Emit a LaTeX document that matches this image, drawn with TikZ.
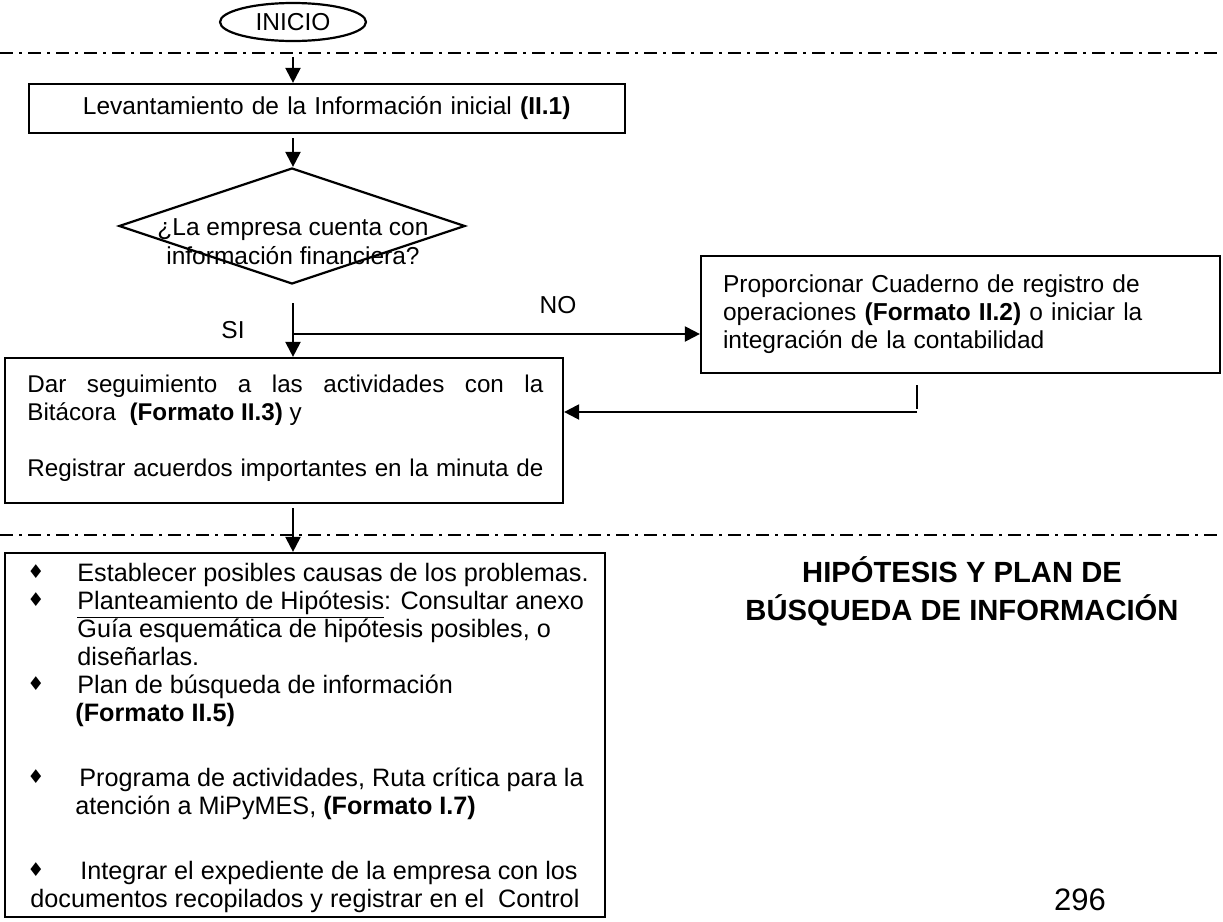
\documentclass[tikz,border=0pt]{standalone}
\usepackage{fontspec}
\setmainfont{Liberation Sans}
\newfontfamily\dejavu{DejaVu Sans}
\usetikzlibrary{arrows.meta,shapes.geometric}
\begin{document}
\begin{tikzpicture}[x=0.5pt,y=-0.5pt,
  every node/.style={font=\fontsize{12.25}{14}\selectfont},
  procbox/.style={draw, line width=1.1pt, inner sep=0pt},
  flowarrow/.style={line width=1.1pt, -{Triangle[length=7.5pt,width=7.5pt]}},
  plainline/.style={line width=1.1pt},
  sepline/.style={line width=0.8pt, dash pattern=on 6.5pt off 3pt on 1.5pt off 3pt},
  txt/.style={anchor=base west, inner sep=0pt, font=\fontsize{12.6}{14}\selectfont},
  bul/.style={inner sep=0pt, font=\dejavu\fontsize{9.5}{9.5}\selectfont},
]
\useasboundingbox (0,0) rectangle (1223,922);

% separators
\coordinate (s1l) at (0,53); \coordinate (s1r) at (1223,53);
\coordinate (s2l) at (0,535); \coordinate (s2r) at (1223,535);
\draw[sepline] (s1l) -- (s1r);
\draw[sepline] (s2l) -- (s2r);

% start
\node[draw, ellipse, line width=1.1pt, minimum width=73pt, minimum height=19pt, inner sep=0pt] (inicio) at (293,22) {INICIO};

% first process (box 29..625 x 84..133)
\node[procbox, minimum width=298pt, minimum height=24.5pt, text width=244pt, inner xsep=27pt, align=left] (lev) at (327,108.5) {\makebox[244pt][l]{Levantamiento de la Información inicial \textbf{(II.1)}}};

% decision
\node[draw, diamond, line width=1.1pt, minimum width=173pt, minimum height=58pt, inner sep=0pt] (dec) at (292,226) {};
\node[align=center, font=\fontsize{12.25}{14.5}\selectfont, inner sep=0pt] (dectxt) at (293,242) {¿La empresa cuenta con\\información financiera?};

% NO branch box
\node[procbox, minimum width=259.5pt, minimum height=58.5pt, text width=237.5pt, inner xsep=11pt, align=left] (prop) at (960.5,314.5) {Proporcionar Cuaderno de registro de\\operaciones \textbf{(Formato II.2)} o iniciar la\\integración de la contabilidad};

% follow-up box
\node[procbox, minimum width=279pt, minimum height=72.5pt] (seg) at (284,430.5) {};
\node[anchor=base west, inner sep=0pt, font=\fontsize{12.1}{14}\selectfont] (segtxt) at (27,392) {\parbox[t]{258pt}{\makebox[\linewidth][s]{Dar seguimiento a las actividades con la}\\Bitácora\ \ \textbf{(Formato II.3)} y\\[14pt]\makebox[\linewidth][s]{Registrar acuerdos importantes en la minuta de}}};

% labels
\node (si) at (233,330) {SI};
\node (no) at (558,305) {NO};

% bottom box
\node[procbox, minimum width=300pt, minimum height=182pt] (plan) at (305,735) {};

\node[bul] (d1) at (36,572) {♦};
\node[txt] (l1) at (77,581) {Establecer posibles causas de los problemas.};
\node[bul] (d2) at (36,600) {♦};
\node[txt] (l2) at (77,609) {\underline{Planteamiento de Hipótesis}: Consultar anexo};
\node[txt] (l3) at (77,637) {Guía esquemática de hipótesis posibles, o};
\node[txt] (l4) at (77,665) {diseñarlas.};
\node[bul] (d5) at (36,684) {♦};
\node[txt] (l5) at (77,693) {Plan de búsqueda de información};
\node[txt] (l6) at (75,721) {\textbf{(Formato II.5)}};
\node[bul] (d7) at (36,777) {♦};
\node[txt] (l7) at (79,786) {Programa de actividades, Ruta crítica para la};
\node[txt] (l8) at (75,814) {atención a MiPyMES, \textbf{(Formato I.7)}};
\node[bul] (d9) at (36,870) {♦};
\node[txt] (l9) at (80,879) {Integrar el expediente de la empresa con los};
\node[txt] (l10) at (30,907) {documentos recopilados y registrar en el\ \ Control};

% title and page number
\node[align=center, font=\bfseries\fontsize{14.6}{19}\selectfont] (title) at (962,591) {HIPÓTESIS Y PLAN DE\\BÚSQUEDA DE INFORMACIÓN};
\node[font=\fontsize{15.5}{18}\selectfont] (page) at (1080,900) {296};

% connectors
\coordinate (a1s) at (293,57);
\draw[flowarrow] (a1s) -- (a1s |- lev.north);
\coordinate (a2s) at (293,138);
\draw[flowarrow] (a2s) -- (a2s |- dec.north);
\coordinate (a3s) at (293,303);
\draw[flowarrow] (a3s) -- (a3s |- seg.north);
\coordinate (br) at (293,334);
\draw[flowarrow] (br) -- (br -| prop.west);
\coordinate (r1) at (917,385);
\coordinate (r2) at (917,409);
\draw[plainline] (r1) -- (r2);
\coordinate (r3) at (917,412);
\draw[flowarrow] (r3) -- (r3 -| seg.east);
\coordinate (a4s) at (293,508);
\draw[flowarrow] (a4s) -- (a4s |- plan.north);
\end{tikzpicture}
\end{document}
